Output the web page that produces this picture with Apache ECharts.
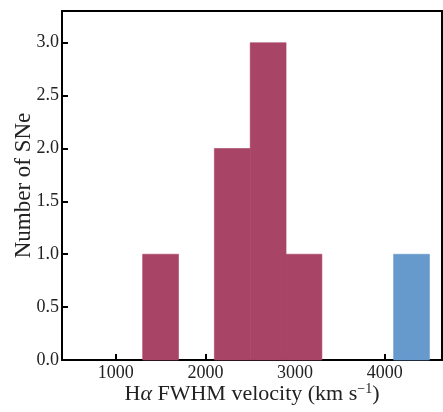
<!DOCTYPE html>
<html>
<head>
<meta charset="utf-8">
<script src="https://cdn.jsdelivr.net/npm/echarts@6/dist/echarts.min.js"></script>
<style>
html, body { margin: 0; padding: 0; background: #fff; }
#chart { width: 443px; height: 412px; }
</style>
</head>
<body>
<div id="chart"></div>
<script>
// histogram bin edges (km/s)
var binEdges = [1300, 1700, 2100, 2500, 2900, 3300, 3700, 4100, 4500];
// counts per bin
var redCounts = [1, 0, 2, 3, 1, 0, 0, 0];
var blueCounts = [0, 0, 0, 0, 0, 0, 0, 1];
// tick labels
var xTicks = [1000, 2000, 3000, 4000];
var yTicks = [0, 0.5, 1, 1.5, 2, 2.5, 3];

var FONT = 'Liberation Serif';

function toBins(counts) {
	var out = [];
	counts.forEach(function(c, i) {
		if (c > 0) out.push([binEdges[i], binEdges[i + 1], c]);
	});
	return out;
}

// draw a bar between two x edges, from 0 up to the count
function renderBin(params, api) {
	var p0 = api.coord([api.value(0), api.value(2)]);
	var p1 = api.coord([api.value(1), 0]);
	var c = api.visual('color');
	return {
		type: 'rect',
		shape: { x: p0[0], y: p0[1], width: p1[0] - p0[0], height: p1[1] - p0[1] },
		style: { fill: c, stroke: c, lineWidth: 0.6 }
	};
}

var myChart = echarts.init(document.getElementById('chart'));
var option = {
	animation: false,
	textStyle: { fontFamily: FONT },
	grid: {
		left: 62, right: 1, top: 11, bottom: 52,
		containLabel: false, outerBoundsMode: 'none',
		show: true, borderColor: '#000', borderWidth: 2
	},
	xAxis: {
		type: 'value',
		min: 400,
		max: 4640,
		splitLine: { show: false },
		axisLine: { lineStyle: { color: '#000', width: 2 } },
		axisTick: { inside: true, length: 6, lineStyle: { color: '#000', width: 2 }, customValues: xTicks },
		axisLabel: {
			customValues: xTicks, color: '#222', fontSize: 18, margin: 4, fontFamily: FONT,
			formatter: function(v) { return String(v); }
		},
		name: '{n|H}{i|α}{n| FWHM velocity (km s}{s|−1}{n|)}',
		nameLocation: 'middle',
		nameGap: 22,
		nameMoveOverlap: false,
		nameTextStyle: {
			rich: {
				n: { fontSize: 22, color: '#222', fontFamily: FONT },
				i: { fontSize: 22, color: '#222', fontFamily: FONT, fontStyle: 'italic' },
				s: { fontSize: 14, color: '#222', fontFamily: FONT, verticalAlign: 'top', padding: [0, 0, 10, 0] }
			}
		}
	},
	yAxis: {
		type: 'value',
		min: 0,
		max: 3.3,
		splitLine: { show: false },
		axisLine: { show: true, lineStyle: { color: '#000', width: 2 } },
		axisTick: { show: true, inside: true, length: 6, lineStyle: { color: '#000', width: 2 }, customValues: yTicks },
		axisLabel: {
			customValues: yTicks, color: '#222', fontSize: 18, margin: 3, fontFamily: FONT,
			formatter: function(v) { return v.toFixed(1); }
		},
		name: 'Number of SNe',
		nameLocation: 'middle',
		nameGap: 27,
		nameMoveOverlap: false,
		nameTextStyle: { fontSize: 23, color: '#222', fontFamily: FONT }
	},
	series: [{
		type: 'custom',
		renderItem: renderBin,
		itemStyle: { color: '#A84466' },
		encode: { x: [0, 1], y: 2 },
		data: toBins(redCounts)
	}, {
		type: 'custom',
		renderItem: renderBin,
		itemStyle: { color: '#6699CC' },
		encode: { x: [0, 1], y: 2 },
		data: toBins(blueCounts)
	}]
};
myChart.setOption(option);
</script>
</body>
</html>
